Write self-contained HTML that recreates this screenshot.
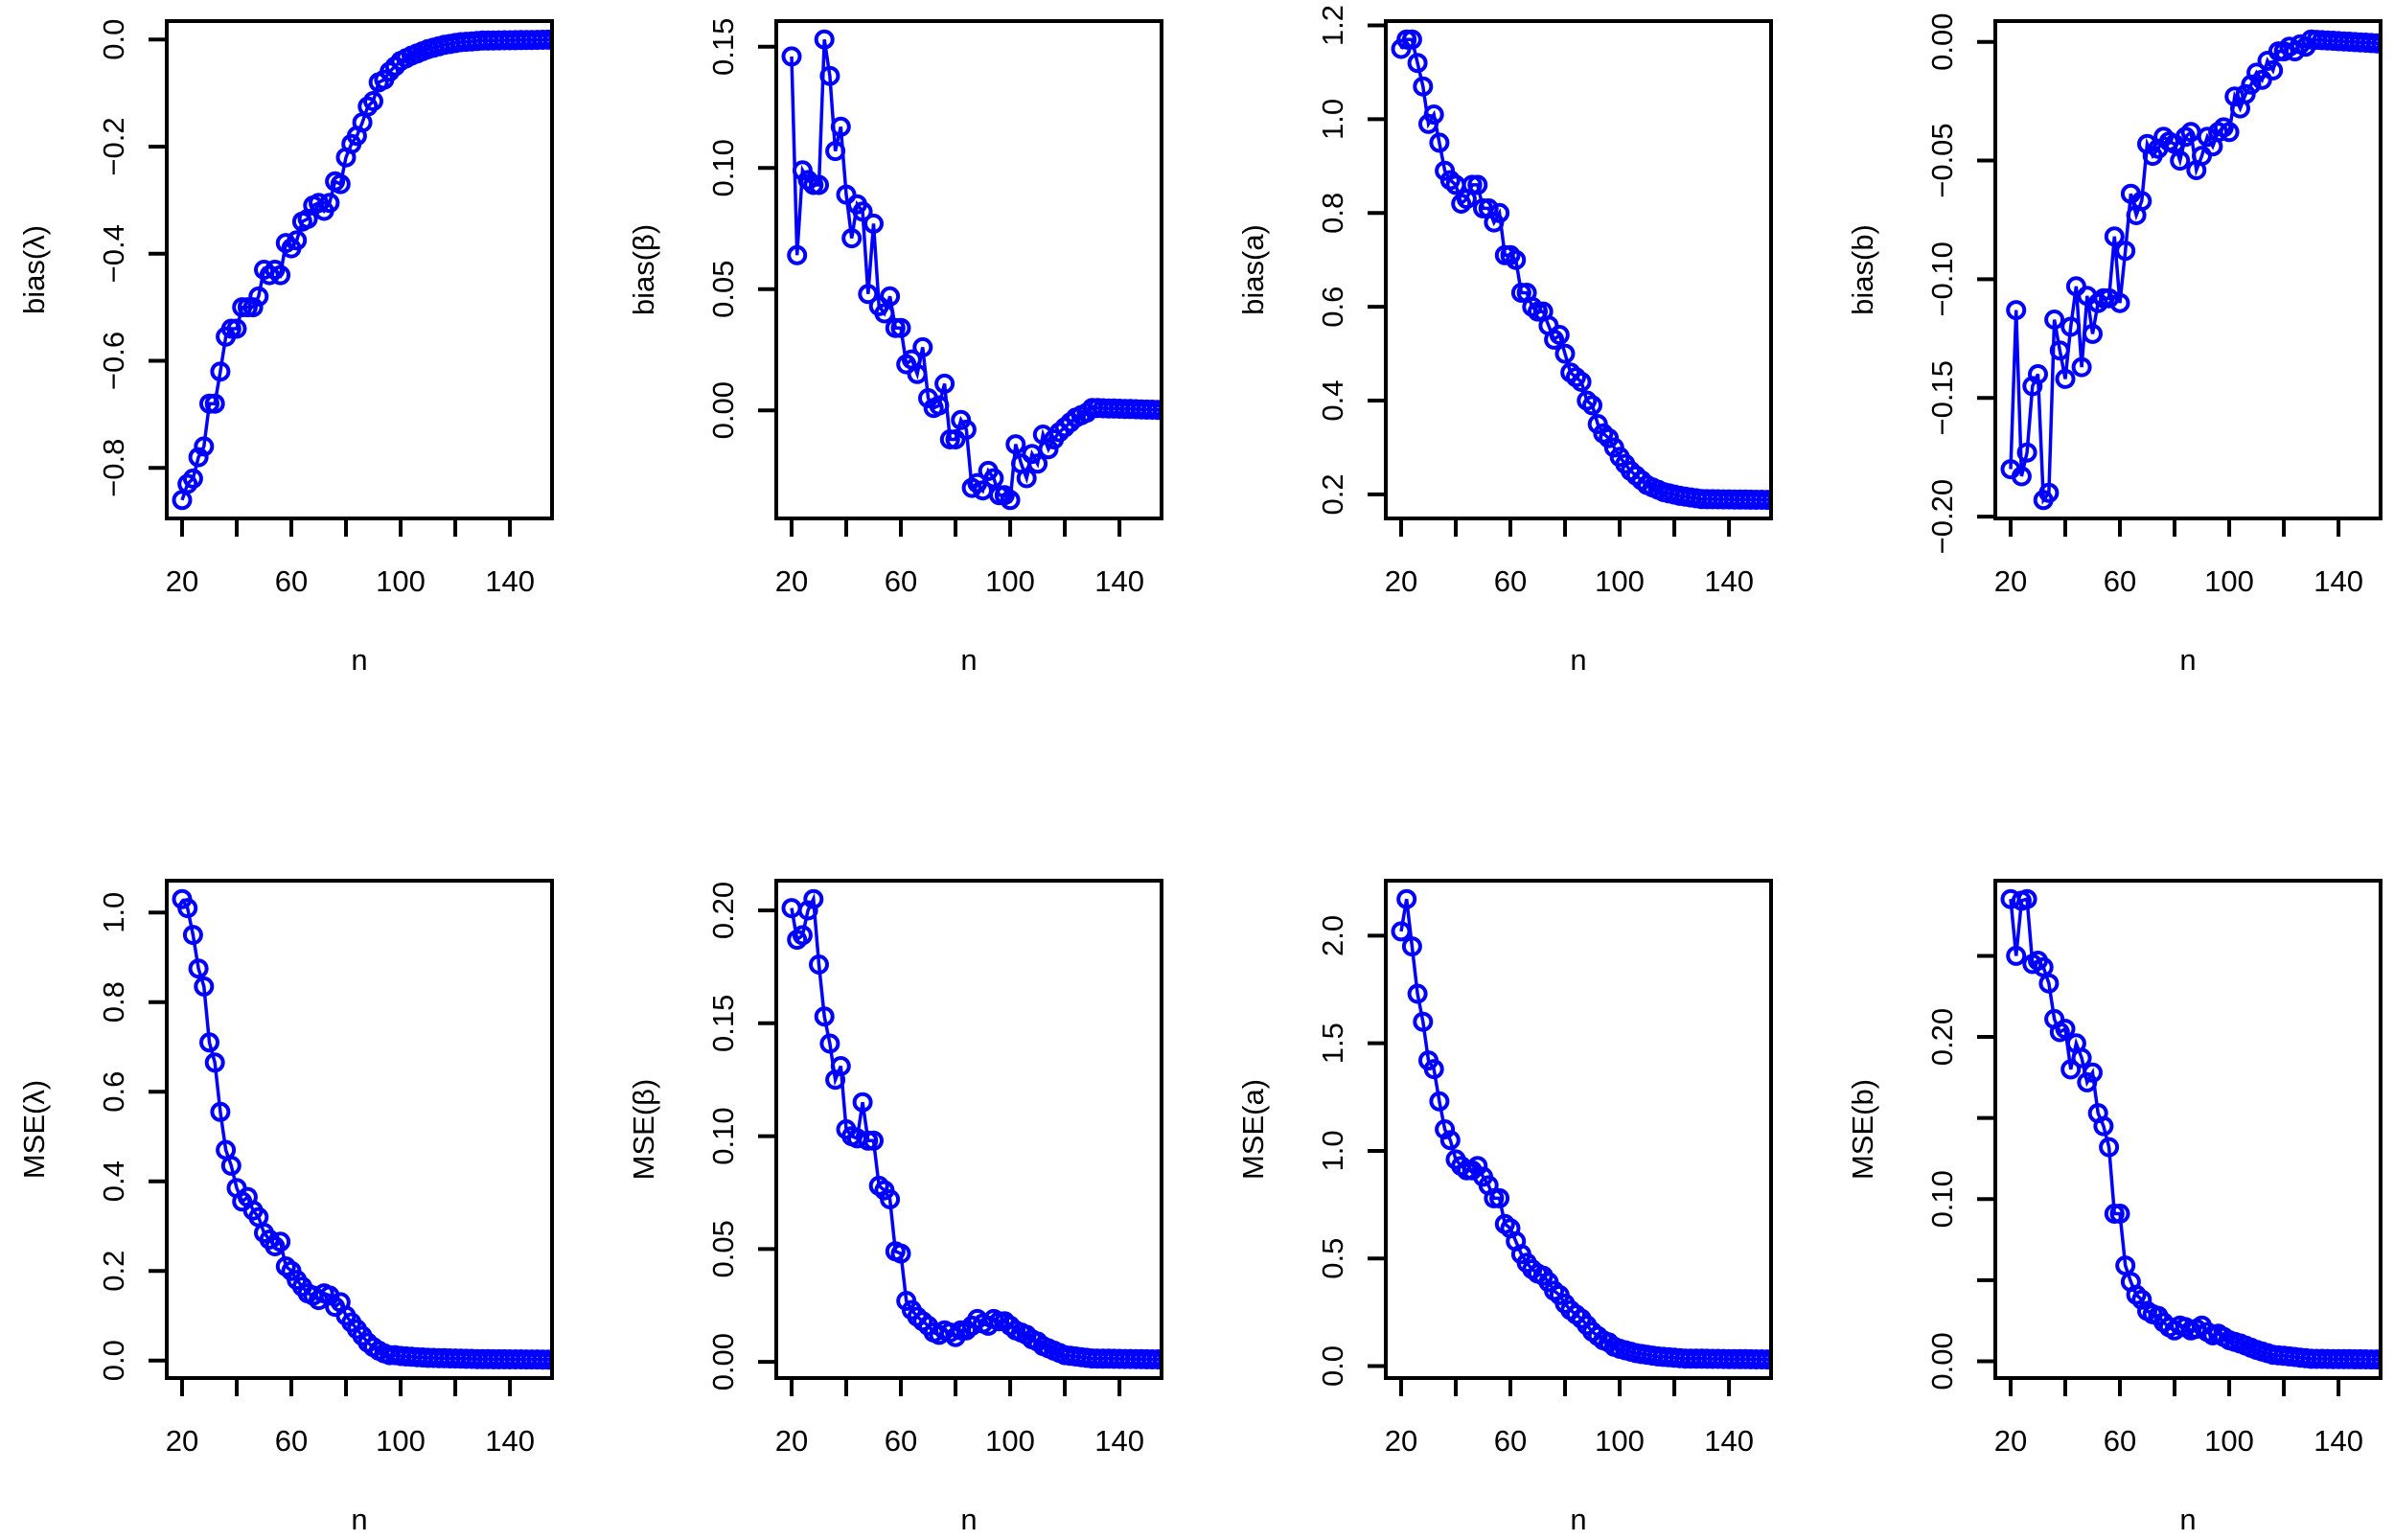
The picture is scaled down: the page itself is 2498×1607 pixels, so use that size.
<!DOCTYPE html>
<html><head><meta charset="utf-8"><style>
html,body{margin:0;padding:0;background:#fff;}
svg{display:block;}
text{font-family:"Liberation Sans",sans-serif;font-size:31px;fill:#000;}
</style></head><body>
<svg id="s" width="2498" height="1607" xmlns="http://www.w3.org/2000/svg"></svg>
<script>
const panels=[
{lab:"bias(λ)",ticks:[-0.8,-0.6,-0.4,-0.2,0.0],dec:1,labels:null,pts:[[20,-0.86],[22,-0.83],[24,-0.82],[26,-0.78],[28,-0.76],[30,-0.68],[32,-0.68],[34,-0.62],[36,-0.555],[38,-0.54],[40,-0.54],[42,-0.5],[44,-0.5],[46,-0.5],[48,-0.48],[50,-0.43],[52,-0.44],[54,-0.43],[56,-0.44],[58,-0.38],[60,-0.39],[62,-0.375],[64,-0.34],[66,-0.335],[68,-0.31],[70,-0.305],[72,-0.32],[74,-0.305],[76,-0.265],[78,-0.27],[80,-0.22],[82,-0.195],[84,-0.18],[86,-0.155],[88,-0.125],[90,-0.115],[92,-0.08],[94,-0.075],[96,-0.06],[98,-0.05],[100,-0.04],[104,-0.03],[110,-0.018],[116,-0.01],[122,-0.005],[130,-0.002],[160,0]]},
{lab:"bias(β)",ticks:[0,0.05,0.10,0.15],dec:2,pts:[[20,0.146],[22,0.064],[24,0.099],[26,0.095],[28,0.093],[30,0.093],[32,0.153],[34,0.138],[36,0.107],[38,0.117],[40,0.089],[42,0.071],[44,0.085],[46,0.082],[48,0.048],[50,0.077],[52,0.043],[54,0.04],[56,0.047],[58,0.034],[60,0.034],[62,0.019],[64,0.021],[66,0.015],[68,0.026],[70,0.005],[72,0.001],[74,0.002],[76,0.011],[78,-0.012],[80,-0.012],[82,-0.004],[84,-0.008],[86,-0.032],[88,-0.03],[90,-0.033],[92,-0.025],[94,-0.028],[96,-0.035],[98,-0.035],[100,-0.037],[102,-0.014],[104,-0.022],[106,-0.028],[108,-0.018],[110,-0.022],[112,-0.01],[114,-0.016],[116,-0.012],[118,-0.009],[120,-0.007],[122,-0.005],[124,-0.003],[126,-0.002],[128,-0.001],[130,0.001],[160,0]]},
{lab:"bias(a)",ticks:[0.2,0.4,0.6,0.8,1.0,1.2],dec:1,pts:[[20,1.15],[22,1.17],[24,1.17],[26,1.12],[28,1.07],[30,0.99],[32,1.01],[34,0.95],[36,0.89],[38,0.87],[40,0.86],[42,0.82],[44,0.83],[46,0.86],[48,0.86],[50,0.81],[52,0.81],[54,0.78],[56,0.80],[58,0.71],[60,0.71],[62,0.70],[64,0.63],[66,0.63],[68,0.6],[70,0.59],[72,0.59],[74,0.56],[76,0.53],[78,0.54],[80,0.50],[82,0.46],[84,0.45],[86,0.44],[88,0.40],[90,0.39],[92,0.35],[94,0.33],[96,0.32],[98,0.30],[100,0.28],[102,0.265],[104,0.25],[106,0.24],[108,0.23],[110,0.22],[116,0.205],[122,0.197],[130,0.19],[160,0.188]]},
{lab:"bias(b)",ticks:[-0.2,-0.15,-0.1,-0.05,0],dec:2,pts:[[20,-0.18],[22,-0.113],[24,-0.183],[26,-0.173],[28,-0.145],[30,-0.14],[32,-0.193],[34,-0.19],[36,-0.117],[38,-0.13],[40,-0.142],[42,-0.12],[44,-0.103],[46,-0.137],[48,-0.107],[50,-0.123],[52,-0.11],[54,-0.108],[56,-0.108],[58,-0.082],[60,-0.11],[62,-0.088],[64,-0.064],[66,-0.073],[68,-0.067],[70,-0.043],[72,-0.048],[74,-0.045],[76,-0.04],[78,-0.042],[80,-0.043],[82,-0.05],[84,-0.04],[86,-0.038],[88,-0.054],[90,-0.048],[92,-0.04],[94,-0.044],[96,-0.038],[98,-0.036],[100,-0.038],[102,-0.023],[104,-0.028],[106,-0.022],[108,-0.018],[110,-0.013],[112,-0.016],[114,-0.008],[116,-0.012],[118,-0.004],[120,-0.004],[122,-0.002],[124,-0.004],[126,-0.001],[128,-0.002],[130,0.001],[160,-0.001]]},
{lab:"MSE(λ)",ticks:[0,0.2,0.4,0.6,0.8,1.0],dec:1,pts:[[20,1.03],[22,1.01],[24,0.95],[26,0.875],[28,0.835],[30,0.71],[32,0.665],[34,0.555],[36,0.47],[38,0.435],[40,0.385],[42,0.355],[44,0.365],[46,0.335],[48,0.32],[50,0.285],[52,0.27],[54,0.255],[56,0.265],[58,0.21],[60,0.2],[62,0.18],[64,0.165],[66,0.15],[68,0.145],[70,0.135],[72,0.15],[74,0.145],[76,0.12],[78,0.13],[80,0.1],[82,0.085],[84,0.07],[86,0.055],[88,0.04],[90,0.03],[92,0.022],[94,0.016],[96,0.012],[98,0.012],[100,0.01],[110,0.006],[130,0.003],[160,0.002]]},
{lab:"MSE(β)",ticks:[0,0.05,0.1,0.15,0.2],dec:2,pts:[[20,0.201],[22,0.187],[24,0.189],[26,0.2],[28,0.205],[30,0.176],[32,0.153],[34,0.141],[36,0.125],[38,0.131],[40,0.103],[42,0.1],[44,0.099],[46,0.115],[48,0.098],[50,0.098],[52,0.078],[54,0.076],[56,0.072],[58,0.049],[60,0.048],[62,0.027],[64,0.023],[66,0.02],[68,0.018],[70,0.016],[72,0.013],[74,0.012],[76,0.014],[78,0.013],[80,0.011],[82,0.014],[84,0.014],[86,0.016],[88,0.019],[90,0.017],[92,0.016],[94,0.019],[96,0.018],[98,0.018],[100,0.016],[102,0.014],[104,0.013],[106,0.012],[108,0.01],[110,0.009],[112,0.007],[114,0.006],[116,0.005],[118,0.004],[120,0.003],[130,0.0015],[160,0.001]]},
{lab:"MSE(a)",ticks:[0,0.5,1.0,1.5,2.0],dec:1,pts:[[20,2.02],[22,2.17],[24,1.95],[26,1.73],[28,1.6],[30,1.42],[32,1.38],[34,1.23],[36,1.1],[38,1.05],[40,0.96],[42,0.93],[44,0.91],[46,0.91],[48,0.93],[50,0.88],[52,0.84],[54,0.78],[56,0.78],[58,0.66],[60,0.64],[62,0.58],[64,0.52],[66,0.48],[68,0.45],[70,0.43],[72,0.42],[74,0.39],[76,0.35],[78,0.33],[80,0.29],[82,0.26],[84,0.24],[86,0.22],[88,0.19],[90,0.16],[92,0.14],[94,0.12],[96,0.11],[98,0.09],[100,0.08],[106,0.06],[114,0.045],[124,0.035],[160,0.03]]},
{lab:"MSE(b)",ticks:[0,0.05,0.1,0.15,0.2,0.25],dec:2,show:[1,0,1,0,1,0],pts:[[20,0.285],[22,0.25],[24,0.284],[26,0.285],[28,0.245],[30,0.247],[32,0.243],[34,0.233],[36,0.211],[38,0.203],[40,0.205],[42,0.18],[44,0.196],[46,0.187],[48,0.172],[50,0.178],[52,0.153],[54,0.145],[56,0.132],[58,0.091],[60,0.091],[62,0.059],[64,0.049],[66,0.041],[68,0.038],[70,0.031],[72,0.029],[74,0.028],[76,0.024],[78,0.021],[80,0.019],[82,0.022],[84,0.021],[86,0.019],[88,0.02],[90,0.022],[92,0.018],[94,0.016],[96,0.017],[98,0.015],[100,0.013],[104,0.011],[110,0.007],[116,0.004],[122,0.003],[130,0.0015],[160,0.001]]}
];
function interp(p,n){for(let i=0;i<p.length-1;i++){if(n>=p[i][0]&&n<=p[i+1][0]){const t=(n-p[i][0])/(p[i+1][0]-p[i][0]);return p[i][1]+t*(p[i+1][1]-p[i][1]);}}return p[p.length-1][1];}
let out="";
const W=402,H=519;
panels.forEach((P,k)=>{
 const col=k%4,row=Math.floor(k/4);
 const L=174+636*col,T=22+897*row,B=T+H,R=L+W;
 const xs=[],ys=[];
 for(let n=20;n<=160;n+=2){xs.push(n);ys.push(interp(P.pts,n));}
 let mn=Math.min(...ys),mx=Math.max(...ys);const e=(mx-mn)*0.04;mn-=e;mx+=e;
 const xmn=14.4,xmx=155.4;
 const X=n=>L+(n-xmn)/(xmx-xmn)*W, Y=v=>B-(v-mn)/(mx-mn)*H;
 out+=`<clipPath id="c${k}"><rect x="${L}" y="${T}" width="${W}" height="${H}"/></clipPath><g clip-path="url(#c${k})">`;
 let d="";xs.forEach((n,i)=>{d+=(i?"L":"M")+X(n).toFixed(1)+" "+Y(ys[i]).toFixed(1);});
 out+=`<path d="${d}" fill="none" stroke="#0000ff" stroke-width="3.5"/>`;
 xs.forEach((n,i)=>{out+=`<circle cx="${X(n).toFixed(1)}" cy="${Y(ys[i]).toFixed(1)}" r="8.5" fill="none" stroke="#0000ff" stroke-width="4"/>`;});
 out+=`</g><rect x="${L}" y="${T}" width="${W}" height="${H}" fill="none" stroke="#000" stroke-width="4"/>`;
 for(let n=20;n<=140;n+=20){const x=X(n);out+=`<line x1="${x}" y1="${B}" x2="${x}" y2="${B+19}" stroke="#000" stroke-width="4"/>`;
  if((n-20)%40==0)out+=`<text x="${x}" y="${B+76}" text-anchor="middle">${n}</text>`;}
 P.ticks.forEach((v,i)=>{const y=Y(v);out+=`<line x1="${L-19}" y1="${y}" x2="${L}" y2="${y}" stroke="#000" stroke-width="4"/>`;
  if(!P.show||P.show[i]){let s=Math.abs(v)<1e-9?(0).toFixed(P.dec):v.toFixed(P.dec);s=s.replace("-","\u2212");
  out+=`<text transform="translate(${L-45},${y}) rotate(-90)" text-anchor="middle">${s}</text>`;}});
 out+=`<text x="${(L+R)/2}" y="${B+158}" text-anchor="middle">n</text>`;
 out+=`<text transform="translate(${L-128},${(T+B)/2}) rotate(-90)" text-anchor="middle">${P.lab}</text>`;
});
document.getElementById("s").innerHTML=out;
</script>
</body></html>
